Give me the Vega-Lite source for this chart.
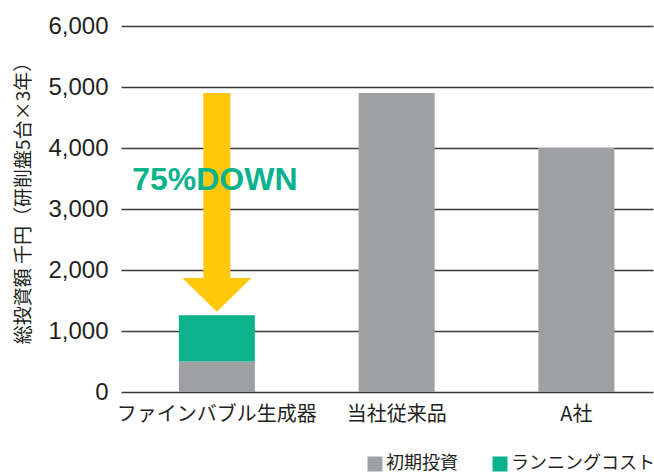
{
  "$schema": "https://vega.github.io/schema/vega-lite/v6.json",
  "autosize": {"type": "none"},
  "padding": {"left": 121, "top": 26, "right": 1, "bottom": 80},
  "width": 532,
  "height": 366,
  "background": "white",
  "config": {
    "view": {"stroke": null},
    "font": "Noto Sans CJK JP"
  },
  "datasets": {
    "costs": [
      {"product": "ファインバブル生成器", "type": "初期投資", "value": 500},
      {"product": "ファインバブル生成器", "type": "ランニングコスト", "value": 760},
      {"product": "当社従来品", "type": "初期投資", "value": 4900},
      {"product": "A社", "type": "初期投資", "value": 4000}
    ],
    "shaft": [
      {"product": "ファインバブル生成器", "from": 1870, "to": 4900}
    ],
    "head": [
      {"product": "ファインバブル生成器", "value": 1592}
    ],
    "note": [
      {"product": "ファインバブル生成器", "value": 3480, "label": "75%DOWN"}
    ]
  },
  "encoding": {
    "x": {
      "field": "product",
      "type": "nominal",
      "sort": ["ファインバブル生成器", "当社従来品", "A社"],
      "scale": {"paddingInner": 0.577, "paddingOuter": 0.268, "align": 0.6},
      "axis": {
        "title": null,
        "labelAngle": 0,
        "ticks": false,
        "domain": false,
        "labelPadding": 12,
        "labelFontSize": 20,
        "labelLimit": 0,
        "labelFont": "Noto Sans CJK JP",
        "labelColor": "#231f20"
      }
    }
  },
  "layer": [
    {
      "data": {"name": "costs"},
      "mark": {"type": "bar"},
      "encoding": {
        "y": {
          "field": "value",
          "type": "quantitative",
          "stack": "zero",
          "scale": {"domain": [0, 6000], "nice": false},
          "axis": {
            "title": "総投資額 千円（研削盤5台×3年）",
            "titleFontSize": 19,
            "titleFont": "Noto Sans CJK JP",
            "titleFontWeight": "normal",
            "titleColor": "#231f20",
            "titlePadding": 14,
            "titleY": 172,
            "values": [0, 1000, 2000, 3000, 4000, 5000, 6000],
            "format": ",.0f",
            "grid": true,
            "gridColor": "#3a3a3a",
            "gridWidth": 1.3,
            "domain": false,
            "ticks": false,
            "labelPadding": 13,
            "labelFontSize": 24,
            "labelFont": "Liberation Sans",
            "labelColor": "#231f20"
          }
        },
        "color": {
          "field": "type",
          "type": "nominal",
          "scale": {"domain": ["初期投資", "ランニングコスト"], "range": ["#9fa0a4", "#0bb28b"]},
          "legend": {
            "title": null,
            "orient": "none",
            "direction": "horizontal",
            "legendX": 245,
            "legendY": 429,
            "symbolType": "square",
            "symbolSize": 225,
            "symbolStrokeWidth": 0,
            "symbolOpacity": 1,
            "labelFontSize": 18,
            "labelLimit": 0,
            "labelFont": "Noto Sans CJK JP",
            "labelColor": "#231f20",
            "labelOffset": 2,
            "columnPadding": 33,
            "padding": 0
          }
        },
        "order": {"field": "type", "sort": "descending"}
      }
    },
    {
      "data": {"name": "shaft"},
      "mark": {"type": "bar", "size": 27, "color": "#ffc80a"},
      "encoding": {
        "y": {"field": "from", "type": "quantitative"},
        "y2": {"field": "to"}
      }
    },
    {
      "data": {"name": "head"},
      "mark": {
        "type": "point",
        "shape": "M-1,-0.49L1,-0.49L0,0.49Z",
        "size": 4761,
        "filled": true,
        "opacity": 1,
        "color": "#ffc80a",
        "strokeWidth": 0
      },
      "encoding": {
        "y": {"field": "value", "type": "quantitative"}
      }
    },
    {
      "data": {"name": "note"},
      "mark": {
        "type": "text",
        "font": "Liberation Sans",
        "fontWeight": "bold",
        "fontSize": 32,
        "color": "#0bb28b",
        "dx": -2,
        "baseline": "middle",
        "align": "center"
      },
      "encoding": {
        "y": {"field": "value", "type": "quantitative"},
        "text": {"field": "label"}
      }
    }
  ]
}
